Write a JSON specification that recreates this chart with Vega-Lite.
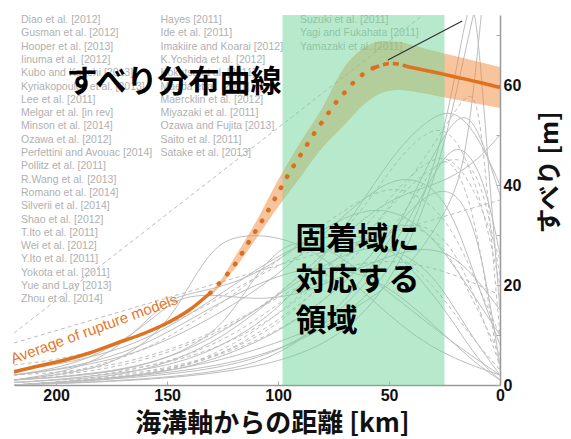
{
  "$schema": "https://vega.github.io/schema/vega-lite/v6.json",
  "width": 486,
  "height": 370,
  "autosize": {"type": "none"},
  "padding": {"left": 14, "top": 15, "right": 71, "bottom": 54},
  "background": "white",
  "config": {"view": {"stroke": null}, "font": "Liberation Sans"},
  "datasets": {
    "studies": [
      {"study": "Diao et al. [2012]", "column": 0, "row": 0},
      {"study": "Gusman et al. [2012]", "column": 0, "row": 1},
      {"study": "Hooper et al. [2013]", "column": 0, "row": 2},
      {"study": "Iinuma et al. [2012]", "column": 0, "row": 3},
      {"study": "Kubo and Kakehi [2013]", "column": 0, "row": 4},
      {"study": "Kyriakopoulos et al. [2013]", "column": 0, "row": 5},
      {"study": "Lee et al. [2011]", "column": 0, "row": 6},
      {"study": "Melgar et al. [in rev]", "column": 0, "row": 7},
      {"study": "Minson et al. [2014]", "column": 0, "row": 8},
      {"study": "Ozawa et al. [2012]", "column": 0, "row": 9},
      {"study": "Perfettini and Avouac [2014]", "column": 0, "row": 10},
      {"study": "Pollitz et al. [2011]", "column": 0, "row": 11},
      {"study": "R.Wang et al. [2013]", "column": 0, "row": 12},
      {"study": "Romano et al. [2014]", "column": 0, "row": 13},
      {"study": "Silverii et al. [2014]", "column": 0, "row": 14},
      {"study": "Shao et al. [2012]", "column": 0, "row": 15},
      {"study": "T.Ito et al. [2011]", "column": 0, "row": 16},
      {"study": "Wei et al. [2012]", "column": 0, "row": 17},
      {"study": "Y.Ito et al. [2011]", "column": 0, "row": 18},
      {"study": "Yokota et al. [2011]", "column": 0, "row": 19},
      {"study": "Yue and Lay [2013]", "column": 0, "row": 20},
      {"study": "Zhou et al. [2014]", "column": 0, "row": 21},
      {"study": "Hayes [2011]", "column": 1, "row": 0},
      {"study": "Ide et al. [2011]", "column": 1, "row": 1},
      {"study": "Imakiire and Koarai [2012]", "column": 1, "row": 2},
      {"study": "K.Yoshida et al. [2012]", "column": 1, "row": 3},
      {"study": "Koketsu et al. [2011]", "column": 1, "row": 4},
      {"study": "Maeda et al. [2011]", "column": 1, "row": 5},
      {"study": "Maercklin et al. [2012]", "column": 1, "row": 6},
      {"study": "Miyazaki et al. [2011]", "column": 1, "row": 7},
      {"study": "Ozawa and Fujita [2013]", "column": 1, "row": 8},
      {"study": "Saito et al. [2011]", "column": 1, "row": 9},
      {"study": "Satake et al. [2013]", "column": 1, "row": 10},
      {"study": "Suzuki et al. [2011]", "column": 2, "row": 0},
      {"study": "Yagi and Fukahata [2011]", "column": 2, "row": 1},
      {"study": "Yamazaki et al. [2011]", "column": 2, "row": 2}
    ],
    "profiles": [
      {"id": "s1", "km": 219, "slip": 1}, {"id": "s1", "km": 200, "slip": 1.5}, {"id": "s1", "km": 180, "slip": 2.5}, {"id": "s1", "km": 160, "slip": 4}, {"id": "s1", "km": 140, "slip": 7}, {"id": "s1", "km": 120, "slip": 12}, {"id": "s1", "km": 100, "slip": 18}, {"id": "s1", "km": 80, "slip": 24}, {"id": "s1", "km": 60, "slip": 28}, {"id": "s1", "km": 45, "slip": 27}, {"id": "s1", "km": 30, "slip": 22}, {"id": "s1", "km": 20, "slip": 15}, {"id": "s1", "km": 10, "slip": 8}, {"id": "s1", "km": 0, "slip": 2},
      {"id": "s2", "km": 219, "slip": 2}, {"id": "s2", "km": 200, "slip": 3}, {"id": "s2", "km": 180, "slip": 4.5}, {"id": "s2", "km": 160, "slip": 7}, {"id": "s2", "km": 140, "slip": 11}, {"id": "s2", "km": 120, "slip": 16}, {"id": "s2", "km": 100, "slip": 22}, {"id": "s2", "km": 80, "slip": 30}, {"id": "s2", "km": 60, "slip": 38}, {"id": "s2", "km": 45, "slip": 42}, {"id": "s2", "km": 30, "slip": 40}, {"id": "s2", "km": 20, "slip": 33}, {"id": "s2", "km": 10, "slip": 20}, {"id": "s2", "km": 0, "slip": 8},
      {"id": "s3", "km": 219, "slip": 3}, {"id": "s3", "km": 200, "slip": 4}, {"id": "s3", "km": 180, "slip": 6}, {"id": "s3", "km": 160, "slip": 9}, {"id": "s3", "km": 140, "slip": 14}, {"id": "s3", "km": 120, "slip": 20}, {"id": "s3", "km": 100, "slip": 26}, {"id": "s3", "km": 80, "slip": 30}, {"id": "s3", "km": 60, "slip": 30}, {"id": "s3", "km": 45, "slip": 26}, {"id": "s3", "km": 30, "slip": 18}, {"id": "s3", "km": 20, "slip": 12}, {"id": "s3", "km": 10, "slip": 5}, {"id": "s3", "km": 0, "slip": 1},
      {"id": "s4", "km": 219, "slip": 0.5}, {"id": "s4", "km": 200, "slip": 1}, {"id": "s4", "km": 180, "slip": 2}, {"id": "s4", "km": 160, "slip": 3}, {"id": "s4", "km": 140, "slip": 5}, {"id": "s4", "km": 120, "slip": 9}, {"id": "s4", "km": 100, "slip": 15}, {"id": "s4", "km": 80, "slip": 25}, {"id": "s4", "km": 60, "slip": 38}, {"id": "s4", "km": 45, "slip": 48}, {"id": "s4", "km": 30, "slip": 54}, {"id": "s4", "km": 20, "slip": 55}, {"id": "s4", "km": 10, "slip": 50}, {"id": "s4", "km": 0, "slip": 40},
      {"id": "s5", "km": 219, "slip": 2}, {"id": "s5", "km": 200, "slip": 3}, {"id": "s5", "km": 180, "slip": 5}, {"id": "s5", "km": 160, "slip": 8}, {"id": "s5", "km": 140, "slip": 13}, {"id": "s5", "km": 120, "slip": 18}, {"id": "s5", "km": 100, "slip": 22}, {"id": "s5", "km": 80, "slip": 24}, {"id": "s5", "km": 60, "slip": 22}, {"id": "s5", "km": 45, "slip": 18}, {"id": "s5", "km": 30, "slip": 12}, {"id": "s5", "km": 20, "slip": 8}, {"id": "s5", "km": 10, "slip": 4}, {"id": "s5", "km": 0, "slip": 1},
      {"id": "s6", "km": 219, "slip": 0.5}, {"id": "s6", "km": 200, "slip": 1}, {"id": "s6", "km": 180, "slip": 1.5}, {"id": "s6", "km": 160, "slip": 3}, {"id": "s6", "km": 140, "slip": 6}, {"id": "s6", "km": 120, "slip": 11}, {"id": "s6", "km": 100, "slip": 18}, {"id": "s6", "km": 80, "slip": 26}, {"id": "s6", "km": 60, "slip": 34}, {"id": "s6", "km": 45, "slip": 38}, {"id": "s6", "km": 30, "slip": 40}, {"id": "s6", "km": 20, "slip": 42}, {"id": "s6", "km": 10, "slip": 45}, {"id": "s6", "km": 0, "slip": 50},
      {"id": "s7", "km": 219, "slip": 0}, {"id": "s7", "km": 160, "slip": 1}, {"id": "s7", "km": 120, "slip": 3}, {"id": "s7", "km": 100, "slip": 6}, {"id": "s7", "km": 80, "slip": 12}, {"id": "s7", "km": 60, "slip": 22}, {"id": "s7", "km": 45, "slip": 32}, {"id": "s7", "km": 35, "slip": 42}, {"id": "s7", "km": 25, "slip": 50}, {"id": "s7", "km": 20, "slip": 53}, {"id": "s7", "km": 15, "slip": 54}, {"id": "s7", "km": 10, "slip": 51}, {"id": "s7", "km": 5, "slip": 45}, {"id": "s7", "km": 0, "slip": 38},
      {"id": "s8", "km": 219, "slip": 0}, {"id": "s8", "km": 150, "slip": 2}, {"id": "s8", "km": 100, "slip": 8}, {"id": "s8", "km": 60, "slip": 16}, {"id": "s8", "km": 40, "slip": 24}, {"id": "s8", "km": 25, "slip": 34}, {"id": "s8", "km": 17, "slip": 42}, {"id": "s8", "km": 12, "slip": 58}, {"id": "s8", "km": 8, "slip": 76},
      {"id": "s9", "km": 219, "slip": 0}, {"id": "s9", "km": 180, "slip": 1}, {"id": "s9", "km": 140, "slip": 3}, {"id": "s9", "km": 100, "slip": 10}, {"id": "s9", "km": 70, "slip": 20}, {"id": "s9", "km": 50, "slip": 30}, {"id": "s9", "km": 35, "slip": 38}, {"id": "s9", "km": 20, "slip": 40}, {"id": "s9", "km": 10, "slip": 30}, {"id": "s9", "km": 4, "slip": 15}, {"id": "s9", "km": 0, "slip": 4},
      {"id": "s10", "km": 219, "slip": 1}, {"id": "s10", "km": 190, "slip": 3}, {"id": "s10", "km": 170, "slip": 8}, {"id": "s10", "km": 155, "slip": 15}, {"id": "s10", "km": 145, "slip": 18}, {"id": "s10", "km": 130, "slip": 19}, {"id": "s10", "km": 110, "slip": 22}, {"id": "s10", "km": 90, "slip": 28}, {"id": "s10", "km": 70, "slip": 34}, {"id": "s10", "km": 50, "slip": 36}, {"id": "s10", "km": 30, "slip": 30}, {"id": "s10", "km": 15, "slip": 20}, {"id": "s10", "km": 0, "slip": 10},
      {"id": "s11", "km": 219, "slip": 1}, {"id": "s11", "km": 180, "slip": 2}, {"id": "s11", "km": 150, "slip": 5}, {"id": "s11", "km": 130, "slip": 10}, {"id": "s11", "km": 120, "slip": 15}, {"id": "s11", "km": 110, "slip": 22}, {"id": "s11", "km": 100, "slip": 27}, {"id": "s11", "km": 90, "slip": 29}, {"id": "s11", "km": 80, "slip": 28}, {"id": "s11", "km": 60, "slip": 22}, {"id": "s11", "km": 40, "slip": 15}, {"id": "s11", "km": 20, "slip": 8}, {"id": "s11", "km": 0, "slip": 2},
      {"id": "s12", "km": 219, "slip": 0}, {"id": "s12", "km": 150, "slip": 1}, {"id": "s12", "km": 100, "slip": 4}, {"id": "s12", "km": 70, "slip": 10}, {"id": "s12", "km": 50, "slip": 20}, {"id": "s12", "km": 35, "slip": 34}, {"id": "s12", "km": 25, "slip": 48}, {"id": "s12", "km": 18, "slip": 62}, {"id": "s12", "km": 12, "slip": 74}, {"id": "s12", "km": 9, "slip": 80},
      {"id": "s13", "km": 219, "slip": 0}, {"id": "s13", "km": 140, "slip": 2}, {"id": "s13", "km": 100, "slip": 6}, {"id": "s13", "km": 70, "slip": 15}, {"id": "s13", "km": 50, "slip": 26}, {"id": "s13", "km": 35, "slip": 38}, {"id": "s13", "km": 25, "slip": 46}, {"id": "s13", "km": 18, "slip": 48}, {"id": "s13", "km": 10, "slip": 44}, {"id": "s13", "km": 4, "slip": 35}, {"id": "s13", "km": 0, "slip": 26},
      {"id": "s14", "km": 219, "slip": 1}, {"id": "s14", "km": 190, "slip": 2.5}, {"id": "s14", "km": 170, "slip": 5}, {"id": "s14", "km": 150, "slip": 12}, {"id": "s14", "km": 140, "slip": 20}, {"id": "s14", "km": 130, "slip": 27}, {"id": "s14", "km": 120, "slip": 30}, {"id": "s14", "km": 100, "slip": 30}, {"id": "s14", "km": 80, "slip": 26}, {"id": "s14", "km": 60, "slip": 18}, {"id": "s14", "km": 40, "slip": 10}, {"id": "s14", "km": 20, "slip": 5}, {"id": "s14", "km": 0, "slip": 2},
      {"id": "s15", "km": 219, "slip": 2}, {"id": "s15", "km": 190, "slip": 4}, {"id": "s15", "km": 165, "slip": 10}, {"id": "s15", "km": 150, "slip": 16}, {"id": "s15", "km": 140, "slip": 18}, {"id": "s15", "km": 125, "slip": 18}, {"id": "s15", "km": 110, "slip": 17}, {"id": "s15", "km": 90, "slip": 18}, {"id": "s15", "km": 70, "slip": 22}, {"id": "s15", "km": 50, "slip": 26}, {"id": "s15", "km": 30, "slip": 28}, {"id": "s15", "km": 15, "slip": 24}, {"id": "s15", "km": 0, "slip": 15},
      {"id": "s16", "km": 219, "slip": 0}, {"id": "s16", "km": 150, "slip": 2}, {"id": "s16", "km": 100, "slip": 6}, {"id": "s16", "km": 60, "slip": 16}, {"id": "s16", "km": 40, "slip": 30}, {"id": "s16", "km": 25, "slip": 50}, {"id": "s16", "km": 17, "slip": 70}, {"id": "s16", "km": 12, "slip": 80}, {"id": "s16", "km": 8, "slip": 60}, {"id": "s16", "km": 4, "slip": 37}, {"id": "s16", "km": 0, "slip": 15}
    ],
    "profilesAlt": [
      {"id": "d1", "km": 219, "slip": 0.5}, {"id": "d1", "km": 200, "slip": 1}, {"id": "d1", "km": 180, "slip": 2}, {"id": "d1", "km": 160, "slip": 3.5}, {"id": "d1", "km": 140, "slip": 6}, {"id": "d1", "km": 120, "slip": 10}, {"id": "d1", "km": 100, "slip": 16}, {"id": "d1", "km": 80, "slip": 23}, {"id": "d1", "km": 60, "slip": 30}, {"id": "d1", "km": 45, "slip": 33}, {"id": "d1", "km": 30, "slip": 30}, {"id": "d1", "km": 20, "slip": 24}, {"id": "d1", "km": 10, "slip": 15}, {"id": "d1", "km": 0, "slip": 6},
      {"id": "d2", "km": 219, "slip": 0}, {"id": "d2", "km": 200, "slip": 0.5}, {"id": "d2", "km": 180, "slip": 1}, {"id": "d2", "km": 160, "slip": 2}, {"id": "d2", "km": 140, "slip": 4}, {"id": "d2", "km": 120, "slip": 8}, {"id": "d2", "km": 100, "slip": 14}, {"id": "d2", "km": 80, "slip": 22}, {"id": "d2", "km": 60, "slip": 32}, {"id": "d2", "km": 45, "slip": 40}, {"id": "d2", "km": 30, "slip": 46}, {"id": "d2", "km": 20, "slip": 45}, {"id": "d2", "km": 10, "slip": 38}, {"id": "d2", "km": 0, "slip": 25},
      {"id": "d3", "km": 219, "slip": 1}, {"id": "d3", "km": 200, "slip": 2}, {"id": "d3", "km": 180, "slip": 3}, {"id": "d3", "km": 160, "slip": 5}, {"id": "d3", "km": 140, "slip": 8}, {"id": "d3", "km": 120, "slip": 12}, {"id": "d3", "km": 100, "slip": 18}, {"id": "d3", "km": 80, "slip": 26}, {"id": "d3", "km": 60, "slip": 36}, {"id": "d3", "km": 45, "slip": 46}, {"id": "d3", "km": 30, "slip": 52}, {"id": "d3", "km": 20, "slip": 50}, {"id": "d3", "km": 10, "slip": 40}, {"id": "d3", "km": 0, "slip": 20},
      {"id": "d4", "km": 219, "slip": 4}, {"id": "d4", "km": 200, "slip": 5}, {"id": "d4", "km": 180, "slip": 7}, {"id": "d4", "km": 160, "slip": 10}, {"id": "d4", "km": 140, "slip": 14}, {"id": "d4", "km": 120, "slip": 19}, {"id": "d4", "km": 100, "slip": 24}, {"id": "d4", "km": 80, "slip": 28}, {"id": "d4", "km": 60, "slip": 29}, {"id": "d4", "km": 45, "slip": 26}, {"id": "d4", "km": 30, "slip": 20}, {"id": "d4", "km": 20, "slip": 14}, {"id": "d4", "km": 10, "slip": 8}, {"id": "d4", "km": 0, "slip": 3},
      {"id": "d5", "km": 219, "slip": 1}, {"id": "d5", "km": 200, "slip": 2}, {"id": "d5", "km": 180, "slip": 4}, {"id": "d5", "km": 160, "slip": 7}, {"id": "d5", "km": 140, "slip": 12}, {"id": "d5", "km": 120, "slip": 18}, {"id": "d5", "km": 100, "slip": 25}, {"id": "d5", "km": 80, "slip": 32}, {"id": "d5", "km": 60, "slip": 38}, {"id": "d5", "km": 45, "slip": 40}, {"id": "d5", "km": 30, "slip": 36}, {"id": "d5", "km": 20, "slip": 30}, {"id": "d5", "km": 10, "slip": 20}, {"id": "d5", "km": 0, "slip": 10},
      {"id": "d6", "km": 219, "slip": 10.4}, {"id": "d6", "km": 30, "slip": 75.6},
      {"id": "d7", "km": 219, "slip": 8.4}, {"id": "d7", "km": 0, "slip": 37},
      {"id": "d8", "km": 219, "slip": 1}, {"id": "d8", "km": 160, "slip": 3}, {"id": "d8", "km": 120, "slip": 8}, {"id": "d8", "km": 80, "slip": 20}, {"id": "d8", "km": 50, "slip": 35}, {"id": "d8", "km": 30, "slip": 48}, {"id": "d8", "km": 20, "slip": 55}, {"id": "d8", "km": 12, "slip": 60}, {"id": "d8", "km": 8, "slip": 50}, {"id": "d8", "km": 4, "slip": 30}, {"id": "d8", "km": 0, "slip": 10},
      {"id": "d9", "km": 219, "slip": 2}, {"id": "d9", "km": 180, "slip": 3}, {"id": "d9", "km": 140, "slip": 8}, {"id": "d9", "km": 110, "slip": 15}, {"id": "d9", "km": 90, "slip": 20}, {"id": "d9", "km": 70, "slip": 24}, {"id": "d9", "km": 50, "slip": 25}, {"id": "d9", "km": 35, "slip": 24}, {"id": "d9", "km": 20, "slip": 22}, {"id": "d9", "km": 10, "slip": 20}, {"id": "d9", "km": 0, "slip": 18},
      {"id": "d10", "km": 219, "slip": 0}, {"id": "d10", "km": 190, "slip": 0.5}, {"id": "d10", "km": 160, "slip": 2}, {"id": "d10", "km": 130, "slip": 5}, {"id": "d10", "km": 110, "slip": 10}, {"id": "d10", "km": 90, "slip": 16}, {"id": "d10", "km": 70, "slip": 24}, {"id": "d10", "km": 55, "slip": 30}, {"id": "d10", "km": 40, "slip": 33}, {"id": "d10", "km": 25, "slip": 30}, {"id": "d10", "km": 15, "slip": 22}, {"id": "d10", "km": 5, "slip": 10}, {"id": "d10", "km": 0, "slip": 4},
      {"id": "d11", "km": 219, "slip": 0}, {"id": "d11", "km": 200, "slip": 0.5}, {"id": "d11", "km": 150, "slip": 3}, {"id": "d11", "km": 120, "slip": 7}, {"id": "d11", "km": 100, "slip": 12}, {"id": "d11", "km": 80, "slip": 20}, {"id": "d11", "km": 60, "slip": 30}, {"id": "d11", "km": 45, "slip": 38}, {"id": "d11", "km": 30, "slip": 44}, {"id": "d11", "km": 18, "slip": 46}, {"id": "d11", "km": 10, "slip": 42}, {"id": "d11", "km": 5, "slip": 34}, {"id": "d11", "km": 0, "slip": 22},
      {"id": "d12", "km": 219, "slip": 0}, {"id": "d12", "km": 150, "slip": 2}, {"id": "d12", "km": 100, "slip": 10}, {"id": "d12", "km": 70, "slip": 20}, {"id": "d12", "km": 50, "slip": 30}, {"id": "d12", "km": 35, "slip": 40}, {"id": "d12", "km": 25, "slip": 47}, {"id": "d12", "km": 15, "slip": 40}, {"id": "d12", "km": 8, "slip": 25}, {"id": "d12", "km": 3, "slip": 10}, {"id": "d12", "km": 0, "slip": 3}
    ],
    "meanSlip": [
      {"part": "deep", "km": 219, "slip": 2.6}, {"part": "deep", "km": 210, "slip": 3.6}, {"part": "deep", "km": 196, "slip": 5.0}, {"part": "deep", "km": 185, "slip": 6.4}, {"part": "deep", "km": 172.5, "slip": 8.4}, {"part": "deep", "km": 160, "slip": 10.4}, {"part": "deep", "km": 150, "slip": 12.4}, {"part": "deep", "km": 140, "slip": 15.0}, {"part": "deep", "km": 130.6, "slip": 18.4},
      {"part": "mid", "km": 130.6, "slip": 18.4}, {"part": "mid", "km": 126, "slip": 20.6}, {"part": "mid", "km": 119, "slip": 24.4}, {"part": "mid", "km": 113.5, "slip": 28.4}, {"part": "mid", "km": 107, "slip": 33.0}, {"part": "mid", "km": 101, "slip": 37.6}, {"part": "mid", "km": 96, "slip": 41.6}, {"part": "mid", "km": 93, "slip": 43.8}, {"part": "mid", "km": 89.6, "slip": 46.2}, {"part": "mid", "km": 86.5, "slip": 48.4}, {"part": "mid", "km": 83.3, "slip": 50.6}, {"part": "mid", "km": 80.2, "slip": 52.6}, {"part": "mid", "km": 77, "slip": 54.6}, {"part": "mid", "km": 73.4, "slip": 56.8}, {"part": "mid", "km": 69.4, "slip": 58.8}, {"part": "mid", "km": 65.8, "slip": 60.6}, {"part": "mid", "km": 61.3, "slip": 62.3}, {"part": "mid", "km": 57, "slip": 63.4},
      {"part": "peak", "km": 57, "slip": 63.4}, {"part": "peak", "km": 53, "slip": 64.0}, {"part": "peak", "km": 50, "slip": 64.3}, {"part": "peak", "km": 46, "slip": 64.2}, {"part": "peak", "km": 42, "slip": 63.7},
      {"part": "shallow", "km": 42, "slip": 63.7}, {"part": "shallow", "km": 30, "slip": 62.6}, {"part": "shallow", "km": 20, "slip": 61.6}, {"part": "shallow", "km": 10, "slip": 60.6}, {"part": "shallow", "km": 0, "slip": 59.5}
    ],
    "meanRange": [
      {"km": 130, "lo": 18.0, "hi": 18.8}, {"km": 125, "lo": 20.3, "hi": 21.5}, {"km": 120, "lo": 23.0, "hi": 25.2}, {"km": 110, "lo": 29.2, "hi": 32.6}, {"km": 100, "lo": 35.6, "hi": 41.0}, {"km": 90, "lo": 41.5, "hi": 48.5}, {"km": 80, "lo": 47.5, "hi": 55.5}, {"km": 71, "lo": 51.6, "hi": 63.0}, {"km": 60, "lo": 56.6, "hi": 67.8}, {"km": 52, "lo": 58.6, "hi": 68.8}, {"km": 45, "lo": 59.0, "hi": 68.6}, {"km": 38, "lo": 58.6, "hi": 67.8}, {"km": 26, "lo": 57.6, "hi": 66.4}, {"km": 13, "lo": 56.5, "hi": 65.0}, {"km": 0, "lo": 55.4, "hi": 63.6}
    ],
    "lockedZone": [{"from": 98, "to": 25}]
  },
  "layer": [
    {
      "data": {"name": "profiles"},
      "mark": {"type": "line", "interpolate": "basis", "clip": true, "stroke": "#bdbdbd", "strokeWidth": 1},
      "encoding": {
        "x": {
          "field": "km", "type": "quantitative",
          "scale": {"domain": [0, 219], "reverse": true, "nice": false, "zero": false},
          "axis": {
            "orient": "bottom", "values": [0, 50, 100, 150, 200], "grid": false,
            "title": "海溝軸からの距離 [km]", "titleFont": "Noto Sans CJK JP", "titleFontSize": 26, "titleFontWeight": "bold", "titleColor": "#111111",
            "titleBaseline": "top", "titleX": 258, "titleY": 25,
            "labelFont": "Liberation Sans", "labelFontSize": 16, "labelFontWeight": "bold", "labelColor": "#111111", "labelPadding": 6,
            "labelFlush": false, "labelOverlap": false,
            "tickSize": -4, "tickColor": "#aaaaaa", "domainColor": "#9a9a9a", "domainWidth": 1.5
          }
        },
        "y": {
          "field": "slip", "type": "quantitative",
          "scale": {"domain": [0, 74], "nice": false, "zero": false},
          "axis": {
            "orient": "right", "values": [0, 10, 20, 30, 40, 50, 60, 70], "grid": false,
            "labelExpr": "datum.value % 20 === 0 ? datum.label : ''",
            "title": "すべり [m]", "titleFont": "Noto Sans CJK JP", "titleFontSize": 25, "titleFontWeight": "bold", "titleColor": "#111111",
            "titleAngle": -90, "titleAlign": "center", "titleBaseline": "middle", "titleX": 49, "titleY": 157,
            "labelFont": "Liberation Sans", "labelFontSize": 16, "labelFontWeight": "bold", "labelColor": "#111111", "labelPadding": 7,
            "labelFlush": false, "labelOverlap": false,
            "tickSize": -4, "tickColor": "#aaaaaa", "domainColor": "#9a9a9a", "domainWidth": 1.5
          }
        },
        "detail": {"field": "id"}
      }
    },
    {
      "data": {"name": "profilesAlt"},
      "mark": {"type": "line", "interpolate": "basis", "clip": true, "stroke": "#bdbdbd", "strokeWidth": 1, "strokeDash": [4, 3]},
      "encoding": {
        "x": {"field": "km", "type": "quantitative", "scale": {"domain": [0, 219], "reverse": true, "nice": false, "zero": false}, "axis": null},
        "y": {"field": "slip", "type": "quantitative", "scale": {"domain": [0, 74], "nice": false, "zero": false}, "axis": null},
        "detail": {"field": "id"}
      }
    },
    {
      "data": {"name": "studies"},
      "mark": {"type": "text", "align": "left", "baseline": "middle", "font": "Liberation Sans", "fontSize": 10.5, "color": "#b0b0b0"},
      "encoding": {
        "x": {"field": "column", "type": "quantitative", "scale": {"domain": [-0.0502, 3.434], "nice": false, "zero": false}, "axis": null},
        "y": {"field": "row", "type": "quantitative", "scale": {"domain": [-0.376, 27.44], "reverse": true, "nice": false, "zero": false}, "axis": null},
        "text": {"field": "study"}
      }
    },
    {
      "data": {"name": "meanRange"},
      "mark": {"type": "area", "interpolate": "monotone", "color": "#ef8a3c", "opacity": 0.5},
      "encoding": {
        "x": {"field": "km", "type": "quantitative", "scale": {"domain": [0, 219], "reverse": true, "nice": false, "zero": false}, "axis": null},
        "y": {"field": "lo", "type": "quantitative", "scale": {"domain": [0, 74], "nice": false, "zero": false}, "axis": null},
        "y2": {"field": "hi"}
      }
    },
    {
      "data": {"values": [{"label": "すべり分布曲線"}]},
      "mark": {"type": "text", "align": "left", "baseline": "top", "font": "Noto Sans CJK JP", "fontSize": 31, "fontWeight": "bold", "color": "#000000"},
      "encoding": {
        "x": {"datum": 195.3, "type": "quantitative", "scale": {"domain": [0, 219], "reverse": true, "nice": false, "zero": false}, "axis": null},
        "y": {"datum": 63.4, "type": "quantitative", "scale": {"domain": [0, 74], "nice": false, "zero": false}, "axis": null},
        "text": {"field": "label"}
      }
    },
    {
      "data": {"name": "lockedZone"},
      "mark": {"type": "rect", "color": "#6fd69a", "opacity": 0.5},
      "encoding": {
        "x": {"field": "from", "type": "quantitative", "scale": {"domain": [0, 219], "reverse": true, "nice": false, "zero": false}, "axis": null},
        "x2": {"field": "to"}
      }
    },
    {
      "data": {"name": "meanSlip"},
      "transform": [{"filter": "datum.part === 'deep' || datum.part === 'shallow'"}],
      "mark": {"type": "line", "interpolate": "monotone", "color": "#e0721f", "strokeWidth": 3.5},
      "encoding": {
        "x": {"field": "km", "type": "quantitative", "scale": {"domain": [0, 219], "reverse": true, "nice": false, "zero": false}, "axis": null},
        "y": {"field": "slip", "type": "quantitative", "scale": {"domain": [0, 74], "nice": false, "zero": false}, "axis": null},
        "detail": {"field": "part"}
      }
    },
    {
      "data": {"name": "meanSlip"},
      "transform": [{"filter": "datum.part === 'mid'"}],
      "mark": {"type": "line", "interpolate": "monotone", "color": "#d86f22", "strokeWidth": 4.5, "strokeCap": "round", "strokeDash": [0.5, 12.2]},
      "encoding": {
        "x": {"field": "km", "type": "quantitative", "scale": {"domain": [0, 219], "reverse": true, "nice": false, "zero": false}, "axis": null},
        "y": {"field": "slip", "type": "quantitative", "scale": {"domain": [0, 74], "nice": false, "zero": false}, "axis": null}
      }
    },
    {
      "data": {"name": "meanSlip"},
      "transform": [{"filter": "datum.part === 'peak'"}],
      "mark": {"type": "line", "interpolate": "monotone", "color": "#d86f22", "strokeWidth": 3.5, "strokeDash": [6, 4]},
      "encoding": {
        "x": {"field": "km", "type": "quantitative", "scale": {"domain": [0, 219], "reverse": true, "nice": false, "zero": false}, "axis": null},
        "y": {"field": "slip", "type": "quantitative", "scale": {"domain": [0, 74], "nice": false, "zero": false}, "axis": null}
      }
    },
    {
      "data": {"values": [{"label": "固着域に\n対応する\n領域"}]},
      "mark": {"type": "text", "align": "left", "baseline": "top", "font": "Noto Sans CJK JP", "fontSize": 31, "fontWeight": "bold", "color": "#000000", "lineBreak": "\n", "lineHeight": 41},
      "encoding": {
        "x": {"datum": 92.1, "type": "quantitative", "scale": {"domain": [0, 219], "reverse": true, "nice": false, "zero": false}, "axis": null},
        "y": {"datum": 32.0, "type": "quantitative", "scale": {"domain": [0, 74], "nice": false, "zero": false}, "axis": null},
        "text": {"field": "label"}
      }
    },
    {
      "data": {"values": [{"label": "Average of rupture models"}]},
      "mark": {"type": "text", "align": "center", "baseline": "middle", "font": "Liberation Sans", "fontSize": 15, "color": "#e2782c", "angle": -20},
      "encoding": {
        "x": {"datum": 182.9, "type": "quantitative", "scale": {"domain": [0, 219], "reverse": true, "nice": false, "zero": false}, "axis": null},
        "y": {"datum": 11.2, "type": "quantitative", "scale": {"domain": [0, 74], "nice": false, "zero": false}, "axis": null},
        "text": {"field": "label"}
      }
    },
    {
      "data": {"values": [{"from": 50.5, "to": 17, "low": 65, "high": 72.8}]},
      "mark": {"type": "rule", "color": "#333333", "strokeWidth": 1.3},
      "encoding": {
        "x": {"field": "from", "type": "quantitative", "scale": {"domain": [0, 219], "reverse": true, "nice": false, "zero": false}, "axis": null},
        "y": {"field": "low", "type": "quantitative", "scale": {"domain": [0, 74], "nice": false, "zero": false}, "axis": null},
        "x2": {"field": "to"},
        "y2": {"field": "high"}
      }
    }
  ],
  "resolve": {"scale": {"x": "independent", "y": "independent"}}
}
